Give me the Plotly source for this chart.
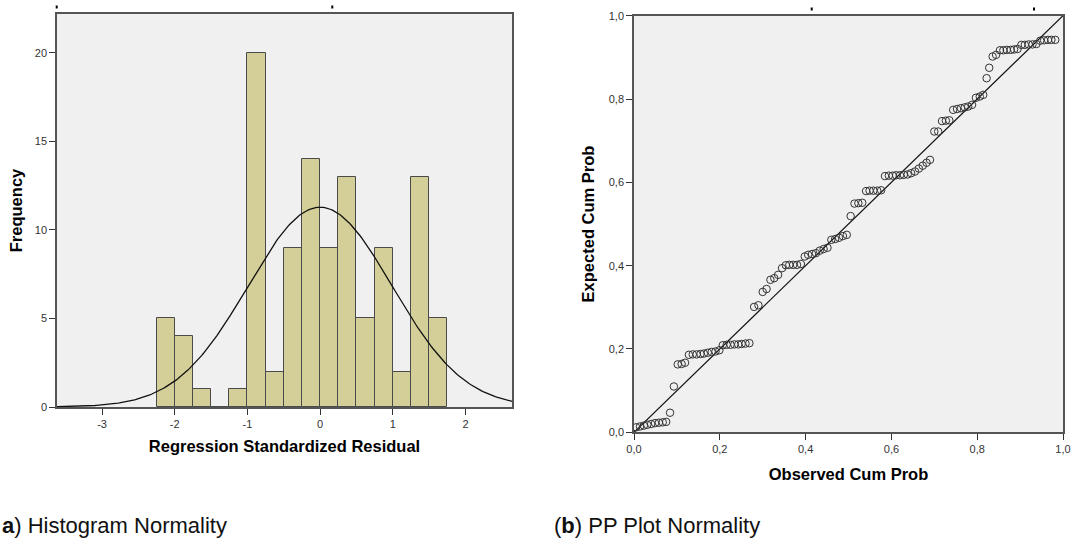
import math
import plotly.graph_objects as go

W, H = 1072, 549

# ---------------- Data ----------------
# Histogram of regression standardized residuals (bin width 0.25)
bin_starts = [-2.25, -2.0, -1.75, -1.5, -1.25, -1.0, -0.75, -0.5, -0.25,
              0.0, 0.25, 0.5, 0.75, 1.0, 1.25, 1.5]
bin_counts = [5, 4, 1, 0, 1, 20, 2, 9, 14, 9, 13, 5, 9, 2, 13, 5]
bin_width = 0.25
resid_mean = 0.0
resid_sd = 0.99
n_obs = 112

hist_xticks = [-3, -2, -1, 0, 1, 2]
hist_xticktext = ["-3", "-2", "-1", "0", "1", "2"]
hist_yticks = [0, 5, 10, 15, 20]

# P-P plot: observed vs expected cumulative probability
observed_cum = [
    0.005, 0.014, 0.023, 0.031, 0.040, 0.049, 0.058, 0.067, 0.075, 0.084,
    0.093, 0.102, 0.111, 0.119, 0.128, 0.137, 0.146, 0.155, 0.163, 0.172,
    0.181, 0.190, 0.199, 0.207, 0.216, 0.225, 0.234, 0.243, 0.251, 0.260,
    0.269, 0.280, 0.290, 0.300, 0.309, 0.318, 0.327, 0.336, 0.345, 0.354,
    0.362, 0.371, 0.380, 0.389, 0.398, 0.406, 0.415, 0.424, 0.433, 0.442,
    0.451, 0.460, 0.469, 0.478, 0.487, 0.496, 0.505, 0.514, 0.523, 0.532,
    0.541, 0.549, 0.558, 0.567, 0.576, 0.585, 0.594, 0.603, 0.611, 0.620,
    0.629, 0.638, 0.646, 0.655, 0.664, 0.673, 0.682, 0.690, 0.700, 0.709,
    0.718, 0.727, 0.735, 0.744, 0.753, 0.762, 0.771, 0.779, 0.788, 0.797,
    0.806, 0.814, 0.822, 0.828, 0.836, 0.844, 0.853, 0.861, 0.869, 0.878,
    0.886, 0.894, 0.903, 0.911, 0.920, 0.929, 0.938, 0.947, 0.956, 0.965,
    0.973, 0.982,
]
expected_cum = [
    0.012, 0.014, 0.016, 0.018, 0.020, 0.022, 0.023, 0.024, 0.025,
    0.047,
    0.110,
    0.163, 0.164, 0.167,
    0.186, 0.187, 0.187, 0.188, 0.189, 0.191, 0.193, 0.194,
    0.197,
    0.209, 0.210, 0.210, 0.211, 0.211, 0.212, 0.213, 0.214,
    0.301, 0.305,
    0.337, 0.344,
    0.366, 0.370,
    0.378,
    0.394,
    0.401, 0.402, 0.402, 0.402, 0.404,
    0.422, 0.426, 0.428, 0.430,
    0.436, 0.440, 0.443,
    0.462, 0.464, 0.467, 0.471, 0.474,
    0.519,
    0.549, 0.550, 0.551,
    0.579, 0.580, 0.580, 0.580, 0.581,
    0.615, 0.616, 0.616, 0.617, 0.617, 0.618, 0.619,
    0.622, 0.626, 0.633, 0.640, 0.647, 0.654,
    0.722, 0.722,
    0.747, 0.748, 0.749,
    0.774, 0.776, 0.778, 0.780, 0.782, 0.786,
    0.803, 0.806, 0.810,
    0.850,
    0.875,
    0.902, 0.906,
    0.917, 0.917, 0.918, 0.918, 0.919, 0.920,
    0.930, 0.930, 0.931, 0.931, 0.932,
    0.940, 0.941, 0.942, 0.942, 0.942,
]
pp_ticks = [0.0, 0.2, 0.4, 0.6, 0.8, 1.0]
reference_line = [0.0, 1.0]

caption_a = "<b>a</b>) Histogram Normality"
caption_b = "(<b>b</b>) PP Plot Normality"

# ---------------- Layout helpers ----------------
def px_x(p):
    return p / W

def px_y(p):
    return 1 - p / H

hist_range = [-3.62, 2.64]
hist_yrange = [0, 22.2]

# fitted normal curve over the histogram
n_curve = 300
curve_x = [hist_range[0] + (hist_range[1] - hist_range[0]) * i / (n_curve - 1) for i in range(n_curve)]
curve_y = [n_obs * bin_width / (resid_sd * math.sqrt(2 * math.pi))
           * math.exp(-0.5 * ((x - resid_mean) / resid_sd) ** 2) for x in curve_x]

fig = go.Figure()

fig.add_trace(go.Bar(
    x=bin_starts, y=bin_counts, width=bin_width, offset=0,
    marker=dict(color="#D4CF98", line=dict(color="#4a4a4a", width=1)),
    xaxis="x", yaxis="y", showlegend=False, hoverinfo="skip",
))
fig.add_trace(go.Scatter(
    x=curve_x, y=curve_y, mode="lines",
    line=dict(color="#111111", width=1.3),
    xaxis="x", yaxis="y", showlegend=False, hoverinfo="skip",
))

fig.add_trace(go.Scatter(
    x=reference_line, y=reference_line, mode="lines",
    line=dict(color="#111111", width=1.2),
    xaxis="x2", yaxis="y2", showlegend=False, hoverinfo="skip",
))
fig.add_trace(go.Scatter(
    x=observed_cum, y=expected_cum, mode="markers",
    marker=dict(symbol="circle-open", size=7.5, color="#333333",
                line=dict(width=1, color="#333333")),
    xaxis="x2", yaxis="y2", showlegend=False, hoverinfo="skip",
))

tick_font = dict(family="Liberation Sans, Arial, sans-serif", size=11, color="#333333")
title_font = dict(family="Liberation Sans, Arial, sans-serif", size=16.5, color="#000000")

axis_common = dict(
    showline=True, mirror=True, linecolor="#555555", linewidth=1.5,
    showgrid=False, zeroline=False, ticks="outside", ticklen=6,
    tickcolor="#333333", tickwidth=1, tickfont=tick_font, automargin=False,
)

fig.update_layout(
    width=W, height=H,
    margin=dict(l=0, r=0, t=0, b=0, autoexpand=False),
    paper_bgcolor="white",
    separators=", ",
    bargap=0,
    xaxis=dict(
        domain=[px_x(57), px_x(512)], range=hist_range,
        tickvals=hist_xticks, ticktext=hist_xticktext,
        title=dict(text="<b>Regression Standardized Residual</b>", font=title_font, standoff=11),
        anchor="y", **axis_common,
    ),
    yaxis=dict(
        domain=[px_y(407), px_y(14)], range=hist_yrange,
        tickvals=hist_yticks,
        title=dict(text="<b>Frequency</b>", font=title_font, standoff=8),
        anchor="x", **axis_common,
    ),
    xaxis2=dict(
        domain=[px_x(634), px_x(1063)], range=[0, 1],
        tickvals=pp_ticks, tickformat=".1f",
        title=dict(text="<b>Observed Cum Prob</b>", font=title_font, standoff=14),
        anchor="y2", **axis_common,
    ),
    yaxis2=dict(
        domain=[px_y(432.3), px_y(15.7)], range=[0, 1],
        tickvals=pp_ticks, tickformat=".1f",
        title=dict(text="<b>Expected Cum Prob</b>", font=title_font, standoff=10),
        anchor="x2", **axis_common,
    ),
    plot_bgcolor="#F0F0F0",
)

# small stray marks along the top (as in the original export)
for (mx, my) in [(56.7, 7), (332.3, 7), (811.7, 9), (1034, 9)]:
    fig.add_shape(type="rect", xref="paper", yref="paper",
                  x0=px_x(mx - 1), x1=px_x(mx + 1), y0=px_y(my + 1.5), y1=px_y(my - 1.5),
                  line=dict(width=0), fillcolor="#000000")

cap_font = dict(family="Liberation Sans Narrow, Arial Narrow, Liberation Sans, sans-serif",
                size=22, color="#111111")
fig.add_annotation(text=caption_a, xref="paper", yref="paper", x=0, y=px_y(525),
                   xanchor="left", yanchor="middle", showarrow=False, font=cap_font)
fig.add_annotation(text=caption_b, xref="paper", yref="paper", x=px_x(552), y=px_y(525),
                   xanchor="left", yanchor="middle", showarrow=False, font=cap_font)

fig.write_html("out.html",
               config={"displayModeBar": False},
               post_script="document.body.style.margin='0';document.body.style.overflow='hidden';")
